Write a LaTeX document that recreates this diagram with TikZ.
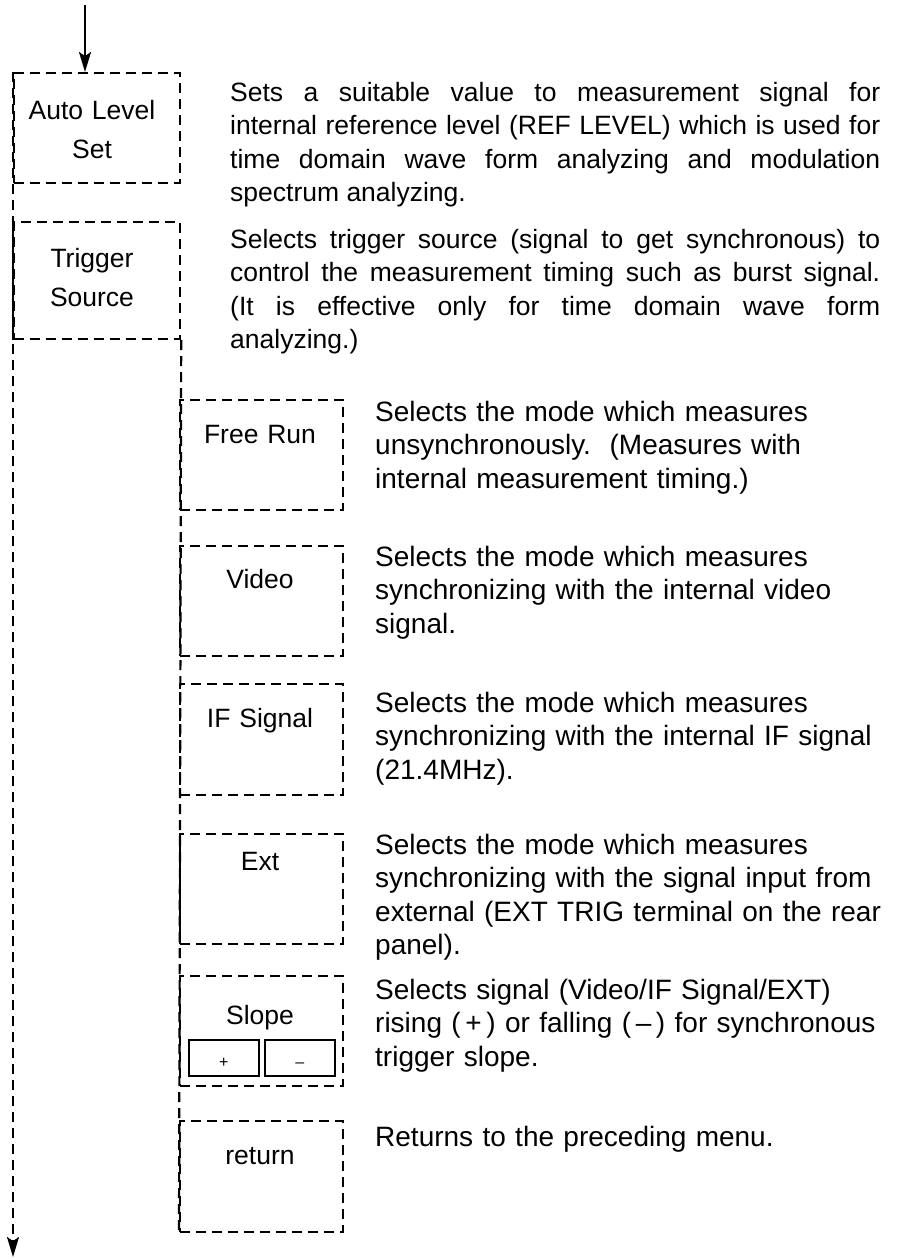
\documentclass[tikz,border=0pt]{standalone}
\usepackage{fontspec}
\setmainfont{Liberation Sans}
\usetikzlibrary{arrows.meta}
\newcommand{\dfont}{\fontsize{26.5}{33.5}\selectfont}
\newcommand{\efont}{\fontsize{28}{33.5}\selectfont}
\newcommand{\lfont}{\fontsize{26.5}{39}\selectfont}
\begin{document}
\begin{tikzpicture}[x=1pt,y=-1pt,
  dsh/.style={line width=2.2pt, dash pattern=on 10pt off 6pt},
  solidline/.style={line width=2.2pt},
  menubox/.style={dsh, draw, rectangle, inner sep=0pt, anchor=north west},
  boxA/.style={menubox, minimum width=166pt},
  boxB/.style={menubox, minimum width=163pt, minimum height=110pt},
  signbox/.style={draw, rectangle, line width=1.6pt, inner sep=0pt, minimum width=70pt, minimum height=36pt, anchor=north west},
  signlbl/.style={inner sep=0pt, anchor=base, font=\fontsize{16}{16}\selectfont},
  lbl/.style={inner sep=0pt, anchor=base, text width=160pt, align=center, font=\lfont},
  desc/.style={inner sep=0pt, anchor=base west, text width=515pt, align=left, font=\efont},
  jdesc/.style={inner sep=0pt, anchor=base west, text width=650pt, align=justify, font=\dfont},
  tip/.style={-{Stealth[length=20pt,width=12pt,inset=4pt]}}
]
\useasboundingbox (0,0) rectangle (898,1259);

% level 1 boxes
\node[boxA, minimum height=110pt] (als) at (13,72) {};
\node[boxA, minimum height=117pt] (ts) at (13,221) {};
\draw[solidline] (ts.north west) -- (ts.south west);

\node[lbl] (alsl) at (92,119) {Auto Level\\Set};
\node[lbl] (tsl) at (92,267) {Trigger\\Source};

% level 2 boxes
\node[boxB] (fr) at (179,399) {};
\node[boxB] (vid) at (179,545) {};
\node[boxB, minimum height=111pt] (ifs) at (179,683) {};
\node[boxB] (ext) at (179,833) {};
\node[boxB] (slp) at (179,975) {};
\node[boxB, minimum height=111pt] (ret) at (179,1120) {};

\node[lbl] (frl) at (260,443) {Free Run};
\node[lbl] (vidl) at (260,588) {Video};
\node[lbl] (ifsl) at (260,727) {IF Signal};
\node[lbl] (extl) at (260,870) {Ext};
\node[lbl] (slpl) at (260,1024) {Slope};
\node[lbl] (retl) at (260,1164) {return};

% slope sign boxes
\node[signbox] (plus) at (188,1039) {};
\node[signbox] (minus) at (264,1039) {};
\node[signlbl] at ([yshift=-10pt]plus.center) {+};
\node[signlbl] at ([yshift=-10pt]minus.center) {\textendash};

% connectors
\coordinate (tin) at (85,5);
\coordinate (bot) at (13,1257);
\draw[solidline, tip] (tin) -- (tin |- als.north);
\draw[dsh, tip] (als.north west) -- (bot);
\draw[dsh] (ts.south east) -- (ret.south west);

% descriptions
\node[jdesc] (d1) at (230,101) {Sets a suitable value to measurement signal for\linebreak internal reference level (REF LEVEL) which is used for\linebreak time domain wave form analyzing and modulation\linebreak spectrum analyzing.};
\node[jdesc] (d2) at (230,248) {Selects trigger source (signal to get synchronous) to\linebreak control the measurement timing such as burst signal.\linebreak (It is effective only for time domain wave form\linebreak analyzing.)};

\node[desc] (d3) at (375,421) {Selects the mode which measures\\unsynchronously.\ \ (Measures with\\internal measurement timing.)};
\node[desc] (d4) at (375,566) {Selects the mode which measures\\synchronizing with the internal video\\signal.};
\node[desc] (d5) at (375,712) {Selects the mode which measures\\synchronizing with the internal IF signal\\(21.4MHz).};
\node[desc] (d6) at (375,854) {Selects the mode which measures\\synchronizing with the signal input from\\external (EXT TRIG terminal on the rear\\panel).};
\node[desc] (d7) at (375,999) {Selects signal (Video/IF Signal/EXT)\\rising (\,+\,) or falling (\,\textendash\,) for synchronous\\trigger slope.};
\node[desc] (d8) at (375,1146) {Returns to the preceding menu.};
\end{tikzpicture}
\end{document}
